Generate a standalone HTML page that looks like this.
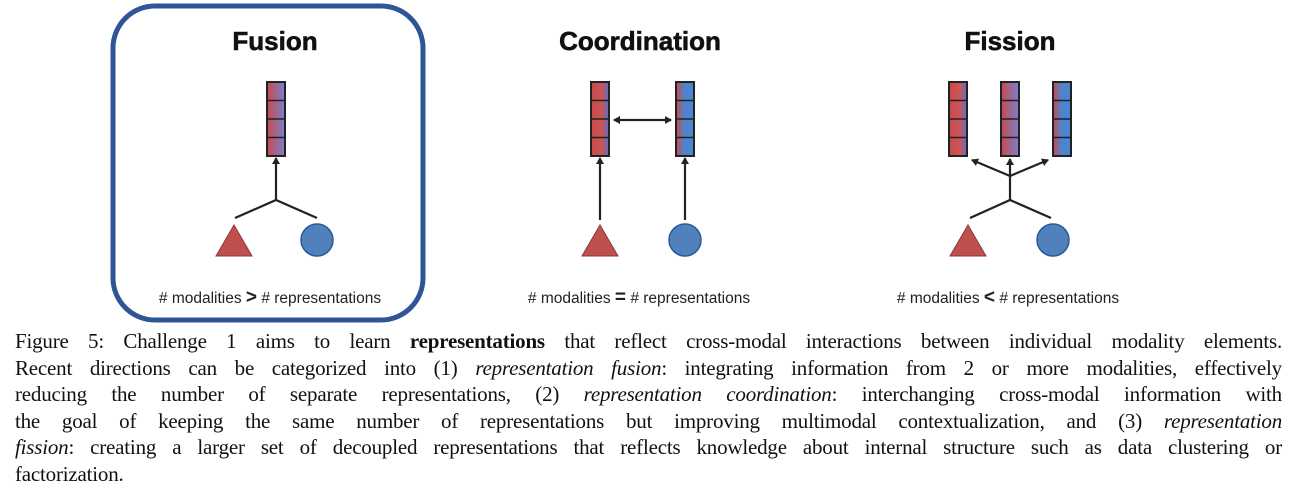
<!DOCTYPE html>
<html><head><meta charset="utf-8"><style>
body{margin:0;width:1296px;height:500px;background:#fff;position:relative;overflow:hidden}
svg{position:absolute;left:0;top:0}
.cap{position:absolute;left:15px;top:328px;width:1267px;font-family:"Liberation Serif",serif;font-size:21px;line-height:26.6px;color:#111;letter-spacing:-0.2px}
.cap div{text-align:justify;text-align-last:justify;white-space:nowrap}
.cap div.l{text-align-last:left}
</style></head><body>
<svg width="1296" height="330" viewBox="0 0 1296 330">
<defs>
<linearGradient id="g1" x1="0" x2="1"><stop offset="0" stop-color="#c84a4a"/><stop offset="1" stop-color="#7a80d0"/></linearGradient>
<linearGradient id="gr" x1="0" x2="1"><stop offset="0" stop-color="#c84a4a"/><stop offset="0.6" stop-color="#cc5555"/><stop offset="1" stop-color="#5a70c8"/></linearGradient>
<linearGradient id="gb" x1="0" x2="1"><stop offset="0" stop-color="#c84a4a"/><stop offset="0.5" stop-color="#4a86d0"/><stop offset="1" stop-color="#4a86d0"/></linearGradient>
<marker id="ah" markerWidth="8" markerHeight="8" refX="6" refY="4" orient="auto-start-reverse" markerUnits="userSpaceOnUse"><path d="M0,0 L7,4 L0,8z" fill="#222"/></marker>
<g id="barg"><rect x="0" y="0" width="18" height="74" fill="url(#g1)" stroke="#222" stroke-width="2"/><path d="M0 18.5H18M0 37H18M0 55.5H18" stroke="#222" stroke-width="1.5"/></g>
<g id="barr"><rect x="0" y="0" width="18" height="74" fill="url(#gr)" stroke="#222" stroke-width="2"/><path d="M0 18.5H18M0 37H18M0 55.5H18" stroke="#222" stroke-width="1.5"/></g>
<g id="barb"><rect x="0" y="0" width="18" height="74" fill="url(#gb)" stroke="#222" stroke-width="2"/><path d="M0 18.5H18M0 37H18M0 55.5H18" stroke="#222" stroke-width="1.5"/></g>
</defs>
<rect x="113" y="6" width="310" height="314" rx="42" fill="none" stroke="#2f5596" stroke-width="5"/>
<g font-family="Liberation Sans,sans-serif" font-weight="bold" font-size="26" fill="#111" text-anchor="middle" stroke="#111" stroke-width="0.6">
<text x="275" y="50">Fusion</text><text x="640" y="50">Coordination</text><text x="1010" y="50">Fission</text></g>
<g stroke="#222" stroke-width="2.2" fill="none">
<path d="M276 200V158" marker-end="url(#ah)"/><path d="M235 218L276 200L317 218"/>
<path d="M600 220V158" marker-end="url(#ah)"/><path d="M685 220V158" marker-end="url(#ah)"/>
<path d="M614 120H671" marker-start="url(#ah)" marker-end="url(#ah)"/>
<path d="M1010 200V176"/><path d="M970 218L1010 200L1051 218"/>
<path d="M1010 176L972 160" marker-end="url(#ah)"/><path d="M1010 176V159" marker-end="url(#ah)"/><path d="M1010 176L1048 160" marker-end="url(#ah)"/>
</g>
<use href="#barg" x="267" y="82"/>
<use href="#barr" x="591" y="82"/><use href="#barb" x="676" y="82"/>
<use href="#barr" x="949" y="82"/><use href="#barg" x="1001" y="82"/><use href="#barb" x="1053" y="82"/>
<g fill="#c0504d" stroke="#8a3a38" stroke-width="1"><path d="M234 225L252 256H216Z"/><path d="M600 225L618 256H582Z"/><path d="M968 225L986 256H950Z"/></g>
<g fill="#4f81bd" stroke="#2a5a95" stroke-width="1.5"><circle cx="317" cy="240" r="16"/><circle cx="685" cy="240" r="16"/><circle cx="1053" cy="240" r="16"/></g>
<g font-family="Liberation Sans,sans-serif" font-size="15.5" fill="#222" text-anchor="middle">
<text x="270" y="303"># modalities <tspan font-weight="bold" font-size="19">&gt;</tspan> # representations</text>
<text x="639" y="303"># modalities <tspan font-weight="bold" font-size="19">=</tspan> # representations</text>
<text x="1008" y="303"># modalities <tspan font-weight="bold" font-size="19">&lt;</tspan> # representations</text>
</g>
</svg>
<div class="cap">
<div>Figure 5: Challenge 1 aims to learn <b>representations</b> that reflect cross-modal interactions between individual modality elements.</div>
<div>Recent directions can be categorized into (1) <i>representation fusion</i>: integrating information from 2 or more modalities, effectively</div>
<div>reducing the number of separate representations, (2) <i>representation coordination</i>: interchanging cross-modal information with</div>
<div>the goal of keeping the same number of representations but improving multimodal contextualization, and (3) <i>representation</i></div>
<div><i>fission</i>: creating a larger set of decoupled representations that reflects knowledge about internal structure such as data clustering or</div>
<div class="l">factorization.</div>
</div>
</body></html>
